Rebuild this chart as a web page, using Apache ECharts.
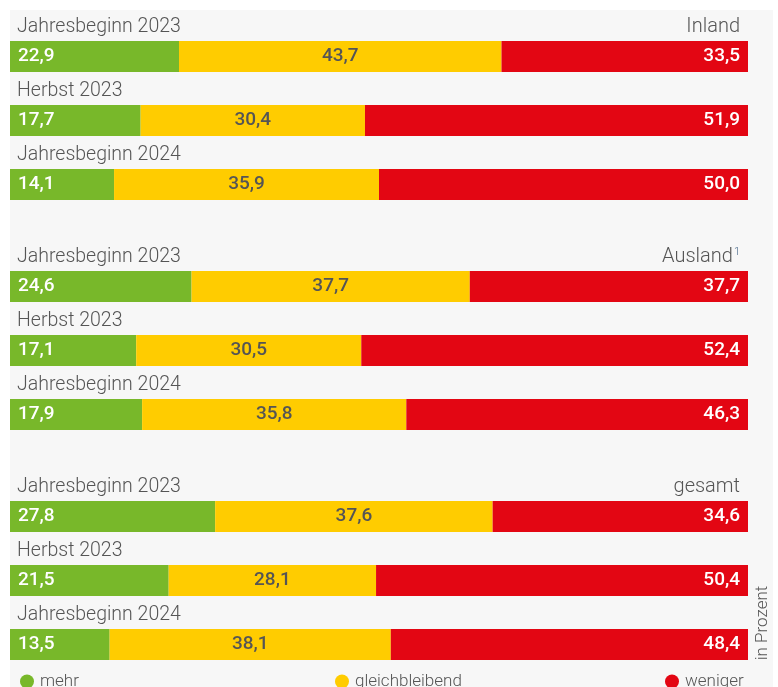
<html>
<head>
<meta charset="utf-8" />
<title></title>
<script type="text/javascript" src="https://cdn.jsdelivr.net/npm/echarts@6/dist/echarts.min.js"></script>
<style>
	html, body { margin: 0; padding: 0; background: #fff; }
	#panel { position: absolute; left: 10px; top: 10px; width: 763px; height: 677px; background: #f7f7f7; }
	#main { position: absolute; left: 0; top: 0; width: 778px; height: 687px; }
</style>
</head>
<body>
<div id="panel"></div>
<div id="main"></div>
<script type="text/javascript">
	// Zeilen je Block
	var categories = ['Jahresbeginn 2023', 'Herbst 2023', 'Jahresbeginn 2024'];
	var groups = ['Inland', 'Ausland{sup|1}', 'gesamt'];
	var seriesNames = ['mehr', 'gleichbleibend', 'weniger'];

	// Werte in Prozent: [Inland, Ausland, gesamt]
	var mehr = [
		[22.9, 17.7, 14.1],
		[24.6, 17.1, 17.9],
		[27.8, 21.5, 13.5]
	];
	var gleich = [
		[43.7, 30.4, 35.9],
		[37.7, 30.5, 35.8],
		[37.6, 28.1, 38.1]
	];
	var weniger = [
		[33.5, 51.9, 50.0],
		[37.7, 52.4, 46.3],
		[34.6, 50.4, 48.4]
	];

	var colors = ['#78b82a', '#ffcc00', '#e30613'];
	var gridTops = [24.5, 254.5, 484.5];
	var fmt = function (p) { return p.value.toFixed(1).replace('.', ','); };

	var grids = [], xAxes = [], yAxes = [], series = [], titles = [];
	var values = [mehr, gleich, weniger];
	var labelCfg = [
		{ position: 'insideLeft', distance: 8, color: '#fff' },
		{ position: 'inside', color: '#555' },
		{ position: 'insideRight', distance: 8, color: '#fff' }
	];

	for (var g = 0; g < 3; g++) {
		grids.push({ left: 10, right: 30, top: gridTops[g], height: 192 });
		xAxes.push({ type: 'value', gridIndex: g, min: 0, max: 100, show: false });
		yAxes.push({
			type: 'category', gridIndex: g, inverse: true, data: categories,
			axisLine: { show: false }, axisTick: { show: false }, splitLine: { show: false },
			z: 5,
			axisLabel: {
				inside: true, align: 'left', margin: 7, interval: 0,
				formatter: function (v) { return '{t|' + v + '}'; },
				rich: {
					t: {
						fontFamily: 'Roboto', fontWeight: 300, fontSize: 19.5, color: '#555',
						padding: [0, 0, 58, 0]
					}
				}
			}
		});
		titles.push({
			text: groups[g], right: 33, top: gridTops[g] - 13,
			textStyle: {
				fontFamily: 'Roboto', fontWeight: 300, fontSize: 20, color: '#555',
				rich: { sup: { fontSize: 11, color: '#4a6a8a', padding: [0, 0, 9, 1] } }
			}
		});
		for (var s = 0; s < 3; s++) {
			series.push({
				name: seriesNames[s], type: 'bar', stack: 'g' + g,
				xAxisIndex: g, yAxisIndex: g, barWidth: 31,
				itemStyle: { color: colors[s] },
				label: Object.assign({
					show: true, formatter: fmt,
					fontFamily: 'Roboto', fontWeight: 500, fontSize: 19
				}, labelCfg[s]),
				data: values[s][g]
			});
		}
	}

	var legendLeft = [20, 335, 665];
	var legends = seriesNames.map(function (n, i) {
		return {
			data: [n], left: legendLeft[i], top: 673, padding: 0, icon: 'circle',
			itemWidth: 14, itemHeight: 14, itemGap: 5,
			textStyle: { fontFamily: 'Roboto', fontWeight: 300, fontSize: 17, color: '#555', padding: [0, 0, 0, 1] }
		};
	});

	var chart = echarts.init(document.getElementById('main'));
	chart.setOption({
		backgroundColor: 'transparent',
		color: colors,
		title: titles,
		legend: legends,
		grid: grids,
		xAxis: xAxes,
		yAxis: yAxes,
		series: series,
		graphic: [{
			type: 'text', x: 763, y: 623, rotation: Math.PI / 2,
			style: {
				text: 'in Prozent', align: 'center', verticalAlign: 'middle',
				fontFamily: 'Roboto', fontWeight: 300, fontSize: 17, fill: '#555'
			}
		}]
	});
</script>
</body>
</html>
